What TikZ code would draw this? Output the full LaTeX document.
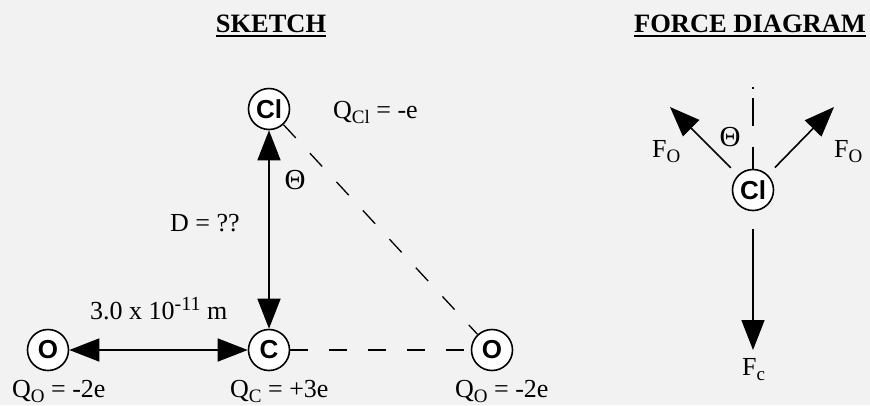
\documentclass[tikz,border=0pt]{standalone}
\usepackage{fontspec}
\setmainfont{Liberation Serif}
\newfontfamily\hvfont{Liberation Sans}
\usetikzlibrary{arrows.meta}
\newcommand{\lowsub}[1]{\raisebox{-5pt}{\fontsize{19}{19}\selectfont #1}}
\definecolor{bgcol}{HTML}{F2F2F2}
\begin{document}
\begin{tikzpicture}[x=1pt,y=-1pt,
  atom/.style={circle, draw, line width=1.6pt, fill=white, minimum size=41pt, inner sep=0pt,
    font=\hvfont\bfseries\fontsize{26}{26}\selectfont},
  lbl/.style={inner sep=0pt, font=\fontsize{26}{26}\selectfont},
  ttl/.style={inner sep=0pt, font=\bfseries\fontsize{26.5}{26.5}\selectfont},
  solidarrow/.style={line width=1.6pt, {Triangle[length=30pt,width=23pt]}-{Triangle[length=30pt,width=23pt]}},
  forcearrow/.style={line width=1.6pt, -{Triangle[length=30pt,width=23pt]}},
  dashline/.style={line width=1.3pt, dash pattern=on 18pt off 21pt},
  thetalbl/.style={inner sep=0pt, font=\fontsize{29}{29}\selectfont}]
\fill[bgcol] (0,0) rectangle (870,405);
\useasboundingbox (0,0) rectangle (870,405);
% titles
\node[ttl, anchor=base] (t1) at (271,32) {SKETCH};
\draw[line width=1.8pt] ([yshift=-4pt]t1.base west) -- ([yshift=-4pt]t1.base east);
\node[ttl, anchor=base] (t2) at (750,32) {FORCE DIAGRAM};
\draw[line width=1.8pt] ([yshift=-4pt]t2.base west) -- ([yshift=-4pt]t2.base east);
% sketch
\node[atom] (cl) at (269,109) {Cl};
\node[atom] (c) at (269,350) {C};
\node[atom] (ol) at (48,350) {O};
\node[atom] (or) at (492,350) {O};
\draw[solidarrow] (cl) -- (c);
\draw[solidarrow] (ol) -- (c);
\draw[dashline] (cl) -- (or);
\draw[dashline] (c) -- (or);
\node[lbl, anchor=base west] (qcl) at (333,118) {Q\lowsub{Cl} = -e};
\node[thetalbl] (th1) at (295,180) {Θ};
\node[lbl, anchor=base west] (d) at (170,231) {D = ??};
\node[lbl, anchor=base west] (dist) at (90,319) {3.0 x 10\raisebox{9pt}{\fontsize{20}{20}\selectfont -11} m};
\node[lbl, anchor=base west] (qol) at (12,397) {Q\lowsub{O} = -2e};
\node[lbl, anchor=base west] (qc) at (230,397) {Q\lowsub{C} = +3e};
\node[lbl, anchor=base west] (qor) at (455,397) {Q\lowsub{O} = -2e};
% force diagram
\node[atom] (fcl) at (753,190) {Cl};
\coordinate (ftop) at (753,87);
\coordinate (fol) at (670,107);
\coordinate (for) at (834,107);
\coordinate (fc) at (753,350);
\draw[line width=1.3pt, dash pattern=on 1.5pt off 9pt on 28pt off 21pt on 30pt off 0pt] (ftop) -- (fcl);
\draw[forcearrow, shorten <=10pt] (fcl) -- (fol);
\draw[forcearrow, shorten <=10pt] (fcl) -- (for);
\draw[forcearrow, shorten <=18pt] (fcl) -- (fc);
\node[thetalbl] (th2) at (730,137) {Θ};
\node[lbl, anchor=base west] (flo) at (652,157) {F\lowsub{O}};
\node[lbl, anchor=base west] (fro) at (834,157) {F\lowsub{O}};
\node[lbl, anchor=base west] (fcc) at (742,375) {F\lowsub{c}};
\end{tikzpicture}
\end{document}
